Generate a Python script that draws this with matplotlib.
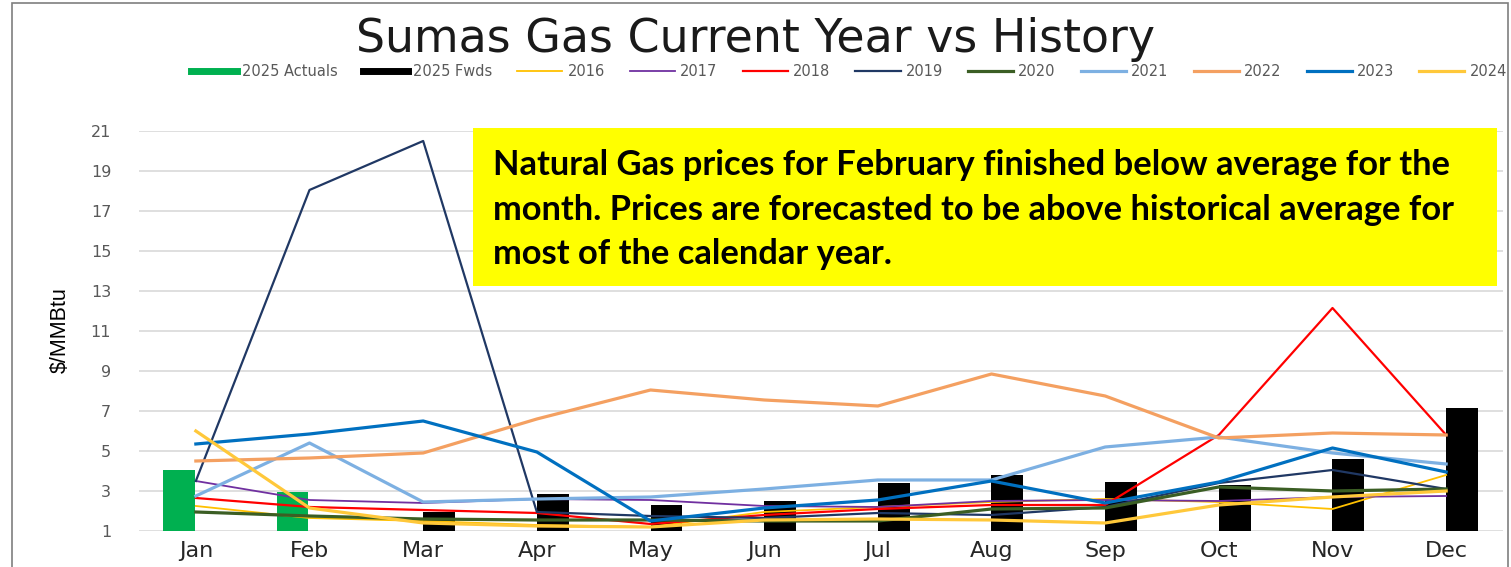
import matplotlib.pyplot as plt
import numpy as np
from matplotlib.lines import Line2D
from matplotlib.patches import Rectangle

months = ['Jan', 'Feb', 'Mar', 'Apr', 'May', 'Jun', 'Jul', 'Aug', 'Sep', 'Oct', 'Nov', 'Dec']
nan = np.nan

actuals_2025 = [4.05, 2.97, nan, nan, nan, nan, nan, nan, nan, nan, nan, nan]
fwds_2025 = [nan, nan, 1.95, 2.85, 2.3, 2.5, 3.4, 3.8, 3.45, 3.3, 4.6, 7.15]

y2016 = [2.25, 1.65, 1.5, 1.3, 1.2, 1.95, 2.2, 2.45, 2.6, 2.45, 2.1, 3.8]
y2017 = [3.5, 2.55, 2.4, 2.6, 2.55, 2.25, 2.2, 2.5, 2.55, 2.5, 2.7, 2.75]
y2018 = [2.65, 2.2, 2.05, 1.9, 1.35, 1.8, 2.1, 2.3, 2.3, 5.8, 12.15, 5.8]
y2019 = [3.5, 18.05, 20.5, 1.95, 1.75, 1.65, 1.9, 1.8, 2.2, 3.4, 4.05, 3.1]
y2020 = [1.95, 1.75, 1.6, 1.55, 1.55, 1.5, 1.5, 2.1, 2.15, 3.2, 3.0, 3.1]
y2021 = [2.75, 5.4, 2.45, 2.6, 2.7, 3.1, 3.55, 3.55, 5.2, 5.7, 4.9, 4.35]
y2022 = [4.5, 4.65, 4.9, 6.6, 8.05, 7.55, 7.25, 8.85, 7.75, 5.65, 5.9, 5.8]
y2023 = [5.35, 5.85, 6.5, 4.95, 1.5, 2.15, 2.55, 3.5, 2.4, 3.45, 5.15, 3.95]
y2024 = [6.0, 2.15, 1.4, 1.25, 1.2, 1.55, 1.6, 1.55, 1.4, 2.3, 2.7, 3.0]

series = [
    ('2016', y2016, '#FFC000', 1.3),
    ('2017', y2017, '#7030A0', 1.3),
    ('2018', y2018, '#FF0000', 1.6),
    ('2019', y2019, '#203864', 1.6),
    ('2020', y2020, '#3B5E24', 2.3),
    ('2021', y2021, '#7DB0E2', 2.3),
    ('2022', y2022, '#F4A061', 2.3),
    ('2023', y2023, '#0070C0', 2.3),
    ('2024', y2024, '#FFC83A', 2.3),
]

fig = plt.figure(figsize=(15.11, 5.67), dpi=100)
ax = fig.add_axes([0.092, 0.0635, 0.9027, 0.7055])

x = np.arange(len(months))
ax.bar(x - 0.15, actuals_2025, width=0.28, color='#00B050', zorder=2)
ax.bar(x + 0.14, fwds_2025, width=0.28, color='black', zorder=2)
for name, vals, col, lw in series:
    ax.plot(x, vals, color=col, lw=lw, zorder=3)

ax.set_xlim(-0.5, 11.5)
ax.set_ylim(1, 21)
ax.set_yticks(np.arange(1, 22, 2))
ax.set_xticks(x)
ax.set_xticklabels(months, fontsize=16, color='#262626')
ax.tick_params(axis='y', labelsize=11.5, labelcolor='#595959', length=0, pad=20)
ax.tick_params(axis='x', length=0, pad=7)
ax.grid(axis='y', color='#d9d9d9', lw=1.2, zorder=0)
ax.set_axisbelow(True)
for s in ax.spines.values():
    s.set_visible(False)

fig.text(0.0397, 0.418, '$/MMBtu', rotation=90, ha='center', va='center',
         fontsize=15.5, family='Liberation Sans')

fig.text(0.5, 0.931, 'Sumas Gas Current Year vs History', ha='center', va='center',
         fontsize=33, color='#1a1a1a')

handles = [Line2D([], [], color='#00B050', lw=5), Line2D([], [], color='black', lw=5)]
labels = ['2025 Actuals', '2025 Fwds']
for name, vals, col, lw in series:
    handles.append(Line2D([], [], color=col, lw=lw))
    labels.append(name)
fig.legend(handles, labels, loc='center', bbox_to_anchor=(0.562, 0.874), ncol=11,
           frameon=False, fontsize=10.5, handlelength=3.1, handletextpad=0.35,
           columnspacing=1.72, labelcolor='#595959')

# yellow note box
fig.add_artist(Rectangle((0.313, 0.4956), 0.6777, 0.2787, transform=fig.transFigure,
                         facecolor='#FFFF00', edgecolor='none', zorder=5))
note = ['Natural Gas prices for February finished below average for the',
        'month. Prices are forecasted to be above historical average for',
        'most of the calendar year.']
for i, line in enumerate(note):
    fig.text(0.3263, (567 - 165 - 44.5 * i) / 567, line, ha='left', va='center',
             fontsize=24.8, fontweight='bold', family='Lato', zorder=6)

# chart frame
fig.add_artist(Rectangle((12 / 1511, -0.05), 1496 / 1511, 1.0447, transform=fig.transFigure,
                         facecolor='none', edgecolor='#7f7f7f', lw=1.2, zorder=7))

plt.savefig('out.png', dpi=100)
